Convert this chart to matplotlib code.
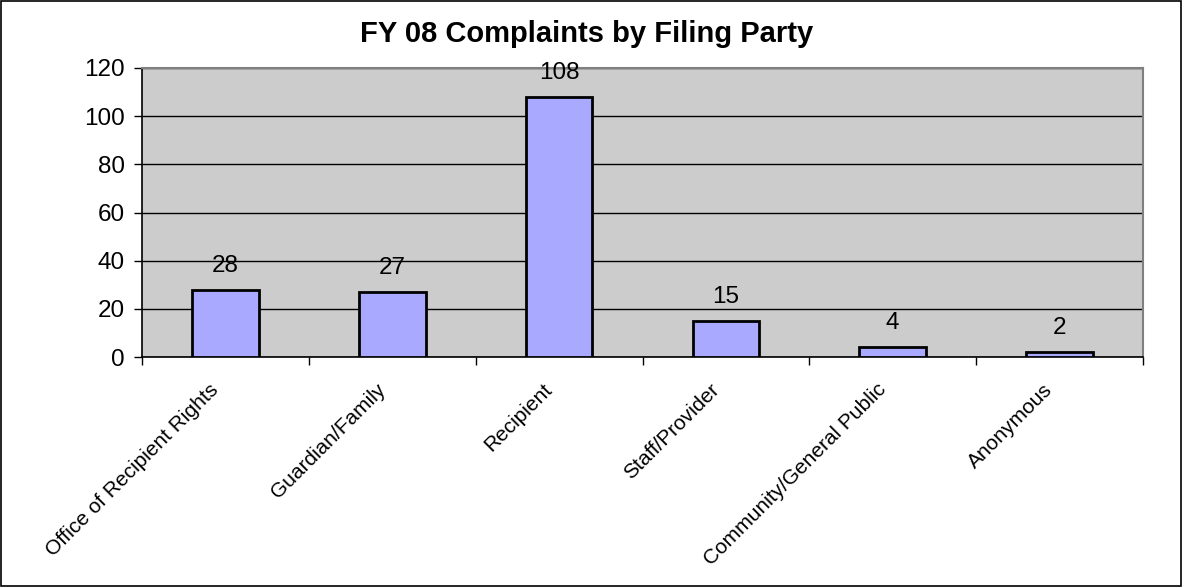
import matplotlib.pyplot as plt
from matplotlib.patches import Rectangle

categories = ['Office of Recipient Rights', 'Guardian/Family', 'Recipient',
              'Staff/Provider', 'Community/General Public', 'Anonymous']
counts = [28, 27, 108, 15, 4, 2]
yticks = [0, 20, 40, 60, 80, 100, 120]

plt.rcParams['font.family'] = ['Liberation Sans', 'DejaVu Sans']

fig = plt.figure(figsize=(11.82, 5.87), dpi=100)
ax = fig.add_axes([142/1182, 1 - 357/587, (1143 - 142)/1182, (357 - 68)/587])
ax.set_facecolor('#CCCCCC')

x = [i + 0.5 for i in range(len(categories))]
ax.bar(x, counts, width=0.4, color='#A9A9FF', edgecolor='black', linewidth=2, zorder=3)
for xi, v in zip(x, counts):
    ax.text(xi, v + 7.5, str(v), ha='center', va='baseline', fontsize=17.5, zorder=4)

ax.set_xlim(0, len(categories))
ax.set_ylim(0, 120)
ax.set_yticks(yticks)
ax.set_yticklabels([str(t) for t in yticks], fontsize=17.5)
ax.yaxis.grid(True, color='black', linewidth=1, zorder=1)
ax.set_axisbelow(True)

# category ticks sit on the boundaries, labels at the bar centres
ax.set_xticks(range(len(categories) + 1))
ax.set_xticklabels([''] * (len(categories) + 1))
ax.tick_params(axis='both', direction='out', length=5.5, width=1, color='black')
ax.tick_params(axis='y', pad=7)
for xi, name in zip(x, categories):
    ax.text(xi - 0.1, -9.5, name, rotation=45, rotation_mode='anchor',
            ha='right', va='top', fontsize=15)

for side in ['top', 'right']:
    ax.spines[side].set_color('#808080')
    ax.spines[side].set_linewidth(1.5)
for side in ['left', 'bottom']:
    ax.spines[side].set_color('black')
    ax.spines[side].set_linewidth(1.2)

fig.text(587/1182, 1 - 42/587, 'FY 08 Complaints by Filing Party', ha='center', va='baseline',
         fontsize=21, fontweight='bold')

fig.patches.append(Rectangle((0.001, 0.002), 0.998, 0.996, transform=fig.transFigure,
                             fill=False, edgecolor='black', linewidth=1.2))

fig.savefig('out.png', dpi=100)
